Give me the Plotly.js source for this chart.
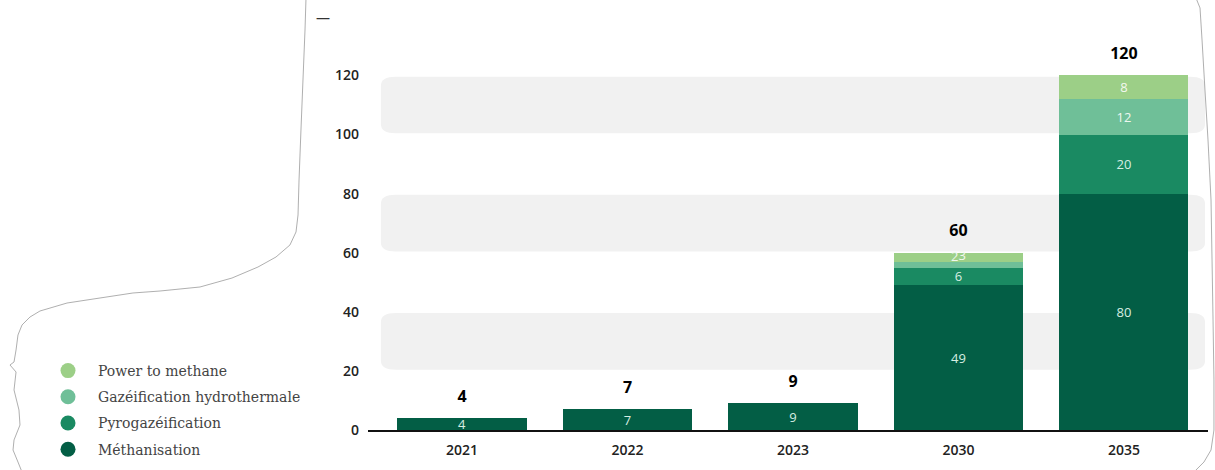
<!DOCTYPE html>
<html>
<head>
<meta charset="utf-8">
<script src="https://cdn.plot.ly/plotly-3.0.1.min.js"></script>
<style>
html,body{margin:0;padding:0;background:#fff;}
#chart{width:1215px;height:470px;}
</style>
</head>
<body>
<div id="chart"></div>
<script>
// ---- Data ----
const years = ['2021', '2022', '2023', '2030', '2035'];
const methanisation = [4, 7, 9, 49, 80];
const pyrogazeification = [0, 0, 0, 6, 20];
const gazeificationHydro = [0, 0, 0, 2, 12];
const powerToMethane = [0, 0, 0, 3, 8];
const totals = [4, 7, 9, 60, 120];
const seriesNames = ['Méthanisation', 'Pyrogazéification', 'Gazéification hydrothermale', 'Power to methane'];
const yTicks = [0, 20, 40, 60, 80, 100, 120];

// ---- Styles ----
const colors = ['#035e45', '#1a8a62', '#6fbf98', '#9ccf87'];
const seriesValues = [methanisation, pyrogazeification, gazeificationHydro, powerToMethane];
const labelColors = ['#d7eee2', '#d7eee2', '#eef7f0', '#f4f8ef'];
const SMALL = 4;

const traces = [];
seriesValues.forEach((vals, i) => {
  traces.push({
    type: 'bar',
    x: years,
    y: vals.map(v => v === 0 ? null : v),
    name: seriesNames[i],
    marker: {color: colors[i], line: {width: 0}},
    text: vals.map(v => (v === 0 || v < SMALL) ? '' : String(v)),
    textposition: 'inside',
    insidetextanchor: 'middle',
    textangle: 0,
    textfont: {family: 'Open Sans', size: 13, color: labelColors[i]},
    showlegend: false,
    hoverinfo: 'x+y+name',
    cliponaxis: false
  });
});

// small segment labels (too thin for inside text), placed beside centre
seriesValues.forEach((vals, i) => {
  let xs = [], ys = [], ts = [];
  years.forEach((yr, j) => {
    const v = vals[j];
    if (v > 0 && v < SMALL) {
      let base = 0;
      for (let k = 0; k < i; k++) base += seriesValues[k][j];
      xs.push(yr); ys.push(base + v / 2); ts.push(String(v));
    }
  });
  if (xs.length) {
    traces.push({
      type: 'scatter', mode: 'text', x: xs, y: ys, text: ts,
      textposition: i === 2 ? 'top left' : 'middle right',
      textfont: {family: 'Open Sans', size: 13, color: labelColors[i]},
      showlegend: false, hoverinfo: 'skip', cliponaxis: false
    });
  }
});

// totals above bars (transparent marker to offset the text)
traces.push({
  type: 'scatter', mode: 'markers+text',
  x: years, y: totals,
  text: totals.map(t => '<b>' + t + '</b>'),
  textposition: 'top center',
  marker: {size: 18, opacity: 0},
  textfont: {family: 'Open Sans', size: 16, color: '#000', weight: 800},
  showlegend: false, hoverinfo: 'skip', cliponaxis: false
});

// legend entries with round markers
for (let i = seriesNames.length - 1; i >= 0; i--) {
  traces.push({
    type: 'scatter', mode: 'markers',
    x: [null], y: [null],
    name: seriesNames[i],
    legendgroup: 'g' + i,
    marker: {color: colors[i], size: 15, symbol: 'circle'},
    showlegend: true,
    hoverinfo: 'skip'
  });
}

// grey rounded bands between alternate ticks
const shapes = [];
const pxPerUnitApprox = 2.954;
function bandPath(x0, x1, y0, y1) {
  const rx = 0.09, ry = 9 / pxPerUnitApprox;
  return `M ${x0 + rx} ${y0} L ${x1 - rx} ${y0} Q ${x1} ${y0} ${x1} ${y0 + ry} L ${x1} ${y1 - ry} Q ${x1} ${y1} ${x1 - rx} ${y1} L ${x0 + rx} ${y1} Q ${x0} ${y1} ${x0} ${y1 - ry} L ${x0} ${y0 + ry} Q ${x0} ${y0} ${x0 + rx} ${y0} Z`;
}
for (let k = 1; k + 1 < yTicks.length; k += 2) {
  shapes.push({
    type: 'path', xref: 'x', yref: 'y', layer: 'below',
    path: bandPath(-0.49, 4.49, yTicks[k] + 0.4, yTicks[k + 1] - 0.4),
    fillcolor: '#f1f1f1', line: {width: 0}
  });
}

// decorative hand-drawn frame (pixel points converted to paper coords)
const L = 368, R = 1208, T = 40, B = 430;
function pxPath(pts) {
  return pts.map((p, i) => (i ? 'L ' : 'M ') + ((p[0] - L) / (R - L)).toFixed(4) + ' ' + ((B - p[1]) / (B - T)).toFixed(4)).join(' ');
}
const leftFrame = [[306,-2],[305,30],[303,80],[301,130],[299,180],[298,215],[296,232],[290,245],[276,257],[258,267],[232,278],[200,287],[160,291],[133,293],[100,298],[67,303],[40,311],[30,317],[22,325],[18,335],[16,350],[14,362],[10,365],[16,372],[14,390],[19,410],[20,425],[14,440],[13,450],[18,462],[22,472]];
const rightFrame = [[1196,-2],[1200,8],[1202,40],[1205,90],[1208,140],[1211,200],[1212,260],[1213,320],[1214,380],[1214,430],[1211,450],[1204,462],[1194,472]];
[leftFrame, rightFrame].forEach(f => shapes.push({
  type: 'path', xref: 'paper', yref: 'paper', layer: 'above',
  path: pxPath(f), line: {color: '#9a9a9a', width: 0.8}
}));

const layout = {
  width: 1215, height: 470,
  margin: {l: L, r: 1215 - R, t: T, b: 470 - B},
  paper_bgcolor: '#ffffff', plot_bgcolor: 'rgba(0,0,0,0)',
  title: {
    text: '—', xref: 'container', yref: 'container',
    x: 316 / 1215, xanchor: 'left', y: 1 - 18 / 470, yanchor: 'middle',
    font: {family: 'Open Sans', size: 14, color: '#333'}
  },
  barmode: 'stack', bargap: 0.22,
  xaxis: {
    type: 'category', range: [-0.568, 4.508],
    showgrid: false, zeroline: false,
    showline: true, linecolor: '#111', linewidth: 2,
    ticks: '', ticklabelstandoff: 6,
    tickfont: {family: 'Open Sans', size: 14, color: '#222', weight: 600},
    fixedrange: true
  },
  yaxis: {
    range: [0, 132], tickvals: yTicks, ticktext: yTicks.map(String),
    showgrid: false, zeroline: false, showline: false, ticks: '',
    ticklabelstandoff: 8,
    tickfont: {family: 'Open Sans', size: 14, color: '#222', weight: 600},
    fixedrange: true
  },
  showlegend: true,
  legend: {
    xref: 'container', yref: 'container',
    x: 38 / 1215, y: 1 - 355 / 470, xanchor: 'left', yanchor: 'top',
    traceorder: 'grouped', tracegroupgap: 5, itemwidth: 50,
    font: {family: 'DejaVu Serif', size: 14, color: '#444'},
    bgcolor: 'rgba(0,0,0,0)'
  },
  shapes: shapes,
  uniformtext: {minsize: 13, mode: 'show'}
};

Plotly.newPlot('chart', traces, layout, {displayModeBar: false, staticPlot: true});
</script>
</body>
</html>
